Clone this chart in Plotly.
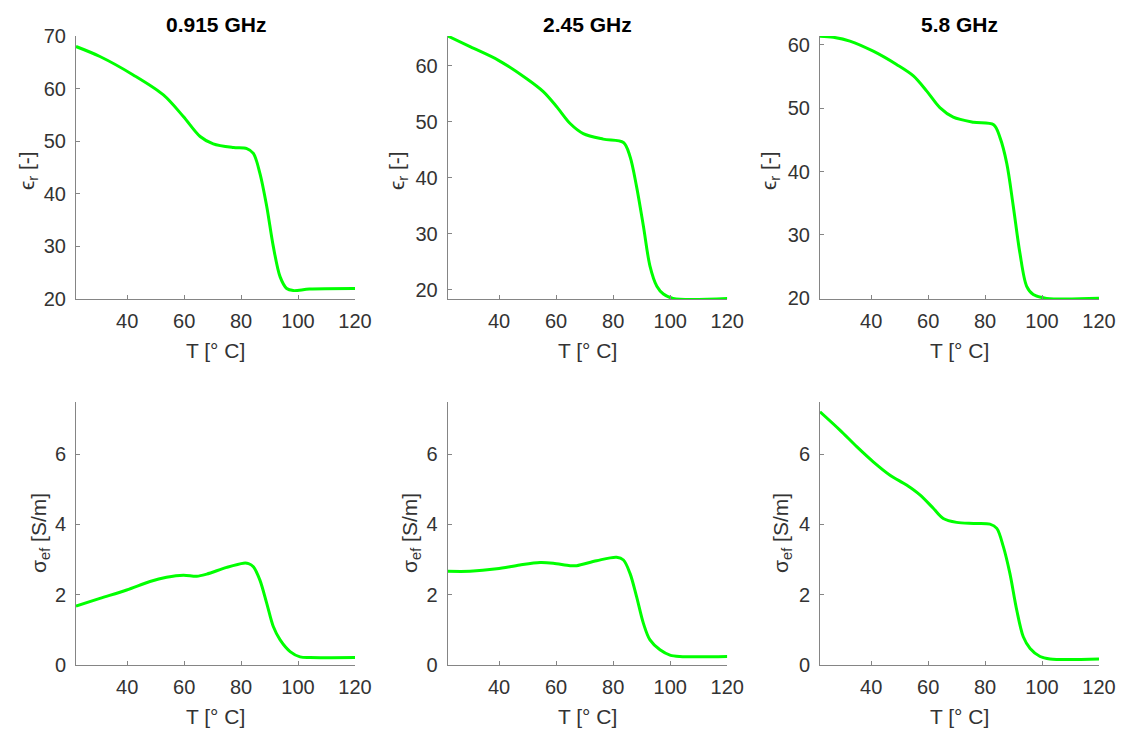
import plotly.graph_objects as go

# ---------------- data ----------------
freq_titles = ["0.915 GHz", "2.45 GHz", "5.8 GHz"]

t_eps_0915 = [22, 30.4, 42.1, 52.7, 59.7, 65.6, 70.2, 77.3, 82, 84.3, 86.6, 89, 91.3, 93.7, 96, 98.3, 104, 120]
eps_0915 = [68.0, 66.1, 62.6, 58.8, 54.7, 50.9, 49.5, 48.8, 48.6, 47.7, 43.9, 37.6, 30.0, 24.2, 22.0, 21.6, 21.9, 22.0]

t_eps_245 = [22, 30, 39.8, 49.7, 55.5, 60.2, 64.9, 69.5, 76.5, 83.6, 85.9, 88.2, 90.6, 92.9, 95.3, 97.6, 101, 120]
eps_245 = [65.35, 63.4, 61.0, 57.7, 55.4, 52.7, 49.7, 47.9, 46.9, 46.3, 43.8, 38.4, 31.3, 24.2, 20.6, 19.2, 18.4, 18.4]

t_eps_58 = [22, 26.7, 32.5, 40.7, 48.9, 54.8, 59.5, 64.1, 68.8, 75.9, 83, 85.2, 87.6, 89.9, 92.2, 94.6, 96.9, 101.6, 120]
eps_58 = [61.36, 61.2, 60.6, 59.0, 56.9, 55.1, 52.7, 50.1, 48.6, 47.8, 47.4, 45.4, 41.3, 34.5, 27.2, 21.9, 20.6, 20.0, 20.0]

t_sig_0915 = [22, 30.4, 39.8, 48, 53.8, 59.7, 64.4, 67.9, 74.9, 80.8, 82.6, 84.3, 86.6, 89, 91.3, 93.7, 97.2, 100.7, 104.2, 120]
sig_0915 = [1.68, 1.90, 2.14, 2.38, 2.50, 2.56, 2.53, 2.59, 2.78, 2.90, 2.89, 2.80, 2.42, 1.76, 1.10, 0.72, 0.39, 0.24, 0.22, 0.22]

t_sig_245 = [22, 29.8, 39.2, 47.3, 54.4, 59, 64.9, 67.2, 74.2, 81.2, 83.6, 85.9, 88.2, 90.6, 92.9, 96.4, 99.9, 103.4, 120]
sig_245 = [2.67, 2.67, 2.74, 2.85, 2.92, 2.90, 2.83, 2.83, 2.97, 3.07, 2.99, 2.61, 1.95, 1.19, 0.72, 0.44, 0.29, 0.25, 0.25]

t_sig_58 = [22, 29, 34.9, 40.7, 46.6, 52.4, 57.1, 61.8, 65.3, 70, 75.9, 81.7, 84.1, 86.4, 88.7, 91.1, 93.4, 95.8, 99.3, 102.8, 120]
sig_58 = [7.20, 6.68, 6.21, 5.78, 5.40, 5.12, 4.84, 4.46, 4.17, 4.06, 4.03, 4.01, 3.89, 3.37, 2.61, 1.57, 0.81, 0.48, 0.25, 0.18, 0.18]

x_ticks = [40, 60, 80, 100, 120]
eps_ticks = [20, 30, 40, 50, 60, 70]
sig_ticks = [0, 2, 4, 6]

eps_ranges = [[20, 70], [18.3, 65.35], [19.9, 61.4]]
sig_range = [0, 7.47]
x_range = [22, 120]

# ---------------- layout geometry ----------------
W, H = 1121, 732
col_px = [(76, 355), (447.7, 727.3), (820, 1099)]
row_px = [(36, 299), (402.3, 665.3)]  # (top, bottom)

LINE_COLOR = "#00ff00"
AX_COLOR = "#858585"
TXT_COLOR = "#333333"
FONT = "Arial, Liberation Sans, Helvetica, sans-serif"

fig = go.Figure()

series = [
    (t_eps_0915, eps_0915), (t_eps_245, eps_245), (t_eps_58, eps_58),
    (t_sig_0915, sig_0915), (t_sig_245, sig_245), (t_sig_58, sig_58),
]

layout_axes = {}
annotations = []
for idx, (tx, ty) in enumerate(series):
    r, c = divmod(idx, 3)
    n = idx + 1
    xa = "x" if n == 1 else f"x{n}"
    ya = "y" if n == 1 else f"y{n}"
    fig.add_trace(go.Scatter(
        x=tx, y=ty, mode="lines", xaxis=xa, yaxis=ya,
        line=dict(color=LINE_COLOR, width=3, shape="spline", smoothing=0.9),
        showlegend=False, hoverinfo="x+y",
    ))
    x0, x1 = col_px[c]
    top, bot = row_px[r]
    common = dict(
        showline=True, linecolor=AX_COLOR, linewidth=1, mirror=False,
        ticks="inside", ticklen=4, tickwidth=1, tickcolor=AX_COLOR,
        showgrid=False, zeroline=False, automargin=False,
        tickfont=dict(family=FONT, size=20, color=TXT_COLOR),
    )
    layout_axes["xaxis" if n == 1 else f"xaxis{n}"] = dict(
        domain=[x0 / W, x1 / W], range=x_range, tickvals=x_ticks,
        anchor=ya, ticklabelstandoff=4, **common,
    )
    layout_axes["yaxis" if n == 1 else f"yaxis{n}"] = dict(
        domain=[1 - bot / H, 1 - top / H],
        range=eps_ranges[c] if r == 0 else sig_range,
        tickvals=eps_ticks if r == 0 else sig_ticks,
        anchor=xa, ticklabelstandoff=5, **common,
    )
    cx = (x0 + x1) / 2
    annotations.append(dict(
        text="T [° C]", x=cx / W, y=1 - (350 if r == 0 else 716) / H,
        xref="paper", yref="paper", xanchor="center", yanchor="middle",
        showarrow=False, font=dict(family=FONT, size=21, color=TXT_COLOR),
    ))
    if r == 0:
        ylx = [28, 398, 770][c]
        yly = 171
        ytxt = "ϵ<sub>r</sub> [-]"
    else:
        ylx = [40, 411, 782][c]
        yly = 533
        ytxt = "σ<sub>ef</sub> [S/m]"
    annotations.append(dict(
        text=ytxt, x=ylx / W, y=1 - yly / H, textangle=-90,
        xref="paper", yref="paper", xanchor="center", yanchor="middle",
        showarrow=False, font=dict(family=FONT, size=21, color=TXT_COLOR),
    ))
    if r == 0:
        annotations.append(dict(
            text=f"<b>{freq_titles[c]}</b>", x=cx / W, y=1 - 24 / H,
            xref="paper", yref="paper", xanchor="center", yanchor="middle",
            showarrow=False, font=dict(family=FONT, size=21, color="#000000"),
        ))

fig.update_layout(
    width=W, height=H,
    margin=dict(l=0, r=0, t=0, b=0, autoexpand=False),
    paper_bgcolor="white", plot_bgcolor="white",
    annotations=annotations,
    **layout_axes,
)

fig.write_html("out.html")
